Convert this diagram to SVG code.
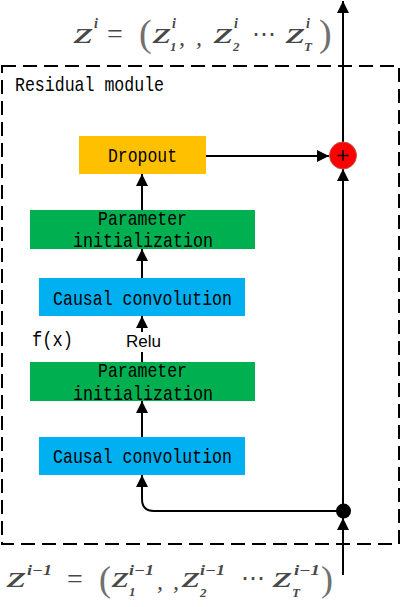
<svg xmlns="http://www.w3.org/2000/svg" width="401" height="607" viewBox="0 0 401 607">
<defs>
<style>
.box{stroke:none}
.lbl{font-family:"Liberation Mono",monospace;font-size:21px;fill:#000}
.conn{fill:none;stroke:#000;stroke-width:2}
.math{font-family:"Liberation Serif",serif;font-style:italic;fill:#484848}
.z{font-size:29px}
.sup{font-size:14px;font-weight:bold}
.sub{font-size:13px;font-weight:bold}
.op{font-family:"Liberation Serif",serif;fill:#484848;font-size:28px}
.par{font-family:"Liberation Serif",serif;fill:#707070}
</style>
<marker id="ah" viewBox="0 0 12 12" refX="12" refY="6" markerWidth="12" markerHeight="12" markerUnits="userSpaceOnUse" orient="auto"><path d="M0,0 L12,6 L0,12 z" fill="#000"/></marker>
</defs>
<rect width="401" height="607" fill="#fff"/>

<g id="frame">
<rect x="2" y="66" width="397" height="478" fill="none" stroke="#000" stroke-width="2" stroke-dasharray="14 7"/>
<text class="lbl" x="15" y="91" textLength="149" lengthAdjust="spacingAndGlyphs">Residual module</text>
</g>

<g id="connectors">
<path class="conn" d="M206,156 H329" marker-end="url(#ah)"/>
<path class="conn" d="M142,210 V174" marker-end="url(#ah)"/>
<path class="conn" d="M142,278 V249" marker-end="url(#ah)"/>
<path class="conn" d="M142,332 V316" marker-end="url(#ah)"/>
<path class="conn" d="M142,352 V362"/>
<path class="conn" d="M142,437 V401" marker-end="url(#ah)"/>
<path class="conn" d="M343,511 H154 Q142,511 142,499 V475" marker-end="url(#ah)"/>
<path class="conn" d="M343,575 V518" marker-end="url(#ah)"/>
<path class="conn" d="M343,511 V169" marker-end="url(#ah)"/>
<path class="conn" d="M343,142 V1" marker-end="url(#ah)"/>
</g>

<g id="dropout">
<rect class="box" x="79" y="136" width="127" height="38" fill="#FFC000"/>
<text class="lbl" x="108" y="162" textLength="69" lengthAdjust="spacingAndGlyphs">Dropout</text>
</g>

<g id="param1">
<rect class="box" x="30" y="210" width="225" height="39" fill="#00B050"/>
<text class="lbl" x="98" y="225" textLength="89" lengthAdjust="spacingAndGlyphs">Parameter</text>
<text class="lbl" x="73" y="247" textLength="140" lengthAdjust="spacingAndGlyphs">initialization</text>
</g>

<g id="conv1">
<rect class="box" x="39" y="278" width="206" height="38" fill="#00B0F0"/>
<text class="lbl" x="53" y="305" textLength="179" lengthAdjust="spacingAndGlyphs">Causal convolution</text>
</g>

<g id="relu-label">
<text class="lbl" x="32" y="346" textLength="41" lengthAdjust="spacingAndGlyphs">f(x)</text>
<text x="126" y="347" textLength="35" lengthAdjust="spacingAndGlyphs" font-family="Liberation Sans,Arial,sans-serif" font-size="16.5" fill="#000">Relu</text>
</g>

<g id="param2">
<rect class="box" x="30" y="362" width="225" height="39" fill="#00B050"/>
<text class="lbl" x="98" y="377" textLength="89" lengthAdjust="spacingAndGlyphs">Parameter</text>
<text class="lbl" x="73" y="400" textLength="140" lengthAdjust="spacingAndGlyphs">initialization</text>
</g>

<g id="conv2">
<rect class="box" x="39" y="437" width="206" height="38" fill="#00B0F0"/>
<text class="lbl" x="53" y="463" textLength="179" lengthAdjust="spacingAndGlyphs">Causal convolution</text>
</g>

<g id="add">
<circle cx="343" cy="155.5" r="13.5" fill="#FF0000" stroke="#C0504D" stroke-width="1"/>
<path d="M337.5,155.5 H348.5 M343,150 V161" stroke="#000" stroke-width="1.5"/>
</g>

<g id="split">
<circle cx="343.5" cy="511" r="7.5" fill="#000"/>
</g>

<g id="output-formula">
<text class="math z" x="74" y="43" textLength="19" lengthAdjust="spacingAndGlyphs">z</text>
<text class="math sup" x="94" y="28">i</text>
<text class="op" x="107" y="43">=</text>
<text class="par" x="139" y="46" font-size="38">(</text>
<text class="math z" x="153" y="43" textLength="18" lengthAdjust="spacingAndGlyphs">z</text>
<text class="math sup" x="172" y="28">i</text>
<text class="math sub" x="170" y="51">1</text>
<text class="math" x="179" y="45" font-size="24">,</text>
<text class="math" x="196" y="45" font-size="24">,</text>
<text class="math z" x="214" y="43" textLength="19" lengthAdjust="spacingAndGlyphs">z</text>
<text class="math sup" x="234" y="28">i</text>
<text class="math sub" x="233" y="51">2</text>
<text class="op" x="252" y="43" font-size="24" textLength="24" lengthAdjust="spacingAndGlyphs">⋯</text>
<text class="math z" x="286" y="43" textLength="19" lengthAdjust="spacingAndGlyphs">z</text>
<text class="math sup" x="306" y="28">i</text>
<text class="math sub" x="304" y="51">T</text>
<text class="par" x="319" y="46" font-size="38">)</text>
</g>

<g id="input-formula">
<text class="math z" x="7" y="587" textLength="19" lengthAdjust="spacingAndGlyphs">z</text>
<text class="math sup" x="27" y="575" textLength="25" lengthAdjust="spacingAndGlyphs">i−1</text>
<text class="op" x="67" y="588">=</text>
<text class="par" x="99" y="591" font-size="36">(</text>
<text class="math z" x="112" y="587" textLength="17" lengthAdjust="spacingAndGlyphs">z</text>
<text class="math sup" x="129" y="575" textLength="25" lengthAdjust="spacingAndGlyphs">i−1</text>
<text class="math sub" x="129" y="596">1</text>
<text class="math" x="157" y="589" font-size="24">,</text>
<text class="math" x="173" y="589" font-size="24">,</text>
<text class="math z" x="182" y="587" textLength="18" lengthAdjust="spacingAndGlyphs">z</text>
<text class="math sup" x="200" y="575" textLength="25" lengthAdjust="spacingAndGlyphs">i−1</text>
<text class="math sub" x="200" y="597">2</text>
<text class="op" x="241" y="587" font-size="24" textLength="24" lengthAdjust="spacingAndGlyphs">⋯</text>
<text class="math z" x="273" y="587" textLength="19" lengthAdjust="spacingAndGlyphs">z</text>
<text class="math sup" x="294" y="575" textLength="26" lengthAdjust="spacingAndGlyphs">i−1</text>
<text class="math sub" x="292" y="597">T</text>
<text class="par" x="321" y="591" font-size="36">)</text>
</g>
</svg>
